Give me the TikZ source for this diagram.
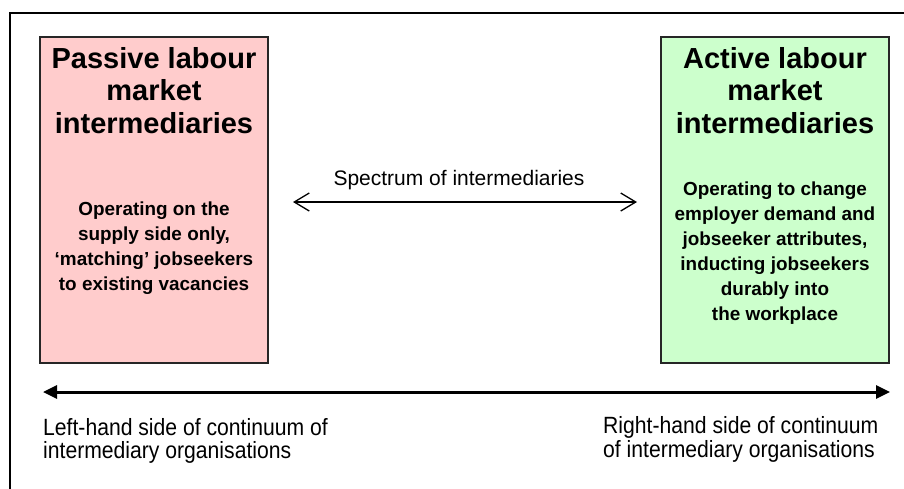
\documentclass[tikz,border=0pt]{standalone}
\usepackage{fontspec}
\setmainfont{Liberation Sans}
\newfontfamily\narrowfont[FakeStretch=0.9]{Liberation Sans}
\usetikzlibrary{arrows.meta}
\definecolor{pinkc}{HTML}{FFCCCC}
\definecolor{greenc}{HTML}{CCFFCC}
\tikzset{
  catbox/.style={draw=black!85, line width=1.3pt, minimum width=228pt, minimum height=326pt, inner sep=0pt},
  titletext/.style={font=\bfseries\fontsize{29}{32.5}\selectfont, align=center, inner sep=0pt, anchor=base},
  bodytext/.style={font=\bfseries\fontsize{18.9}{25}\selectfont, align=center, inner sep=0pt, anchor=base},
  spectext/.style={font=\fontsize{21}{25}\selectfont, inner sep=0pt, anchor=base},
  sidetext/.style={font=\narrowfont\fontsize{23.5}{23.5}\selectfont, align=left, inner sep=0pt, anchor=base west},
}
\begin{document}
\begin{tikzpicture}[x=1pt,y=-1pt]
\useasboundingbox (0,0) rectangle (904,488);
\clip (0,0) rectangle (904,488);
\draw[line width=1.3pt] (10,13) rectangle (930,510);

\node[catbox, fill=pinkc] (passive) at (154,200) {};
\node[catbox, fill=greenc] (active) at (775,200) {};

\node[titletext] (ptitle) at (154,133) {Passive labour\\market\\intermediaries};
\node[bodytext] (pbody) at (154,290) {Operating on the\\supply side only,\\‘matching’ jobseekers\\to existing vacancies};

\node[titletext] (atitle) at (775,133) {Active labour\\market\\intermediaries};
\node[bodytext] (abody) at (775,320) {Operating to change\\employer demand and\\jobseeker attributes,\\inducting jobseekers\\durably into\\the workplace};

\node[spectext] (spec) at (459,185) {Spectrum of intermediaries};
\coordinate (sl) at (293,202);
\coordinate (sr) at (637,202);
\draw[line width=1.3pt, {Straight Barb[length=15pt,width=18pt]}-{Straight Barb[length=15pt,width=18pt]}] (sl) -- (sr);

\coordinate (bl) at (43,392);
\coordinate (br) at (890,392);
\draw[line width=3pt, {Triangle[length=14pt,width=13pt]}-{Triangle[length=14pt,width=13pt]}] (bl) -- (br);

\node[sidetext] (lefttext) at (43,458.5) {Left-hand side of continuum of\\intermediary organisations};
\node[sidetext] (righttext) at (603,457) {Right-hand side of continuum\\of intermediary organisations};
\end{tikzpicture}
\end{document}
